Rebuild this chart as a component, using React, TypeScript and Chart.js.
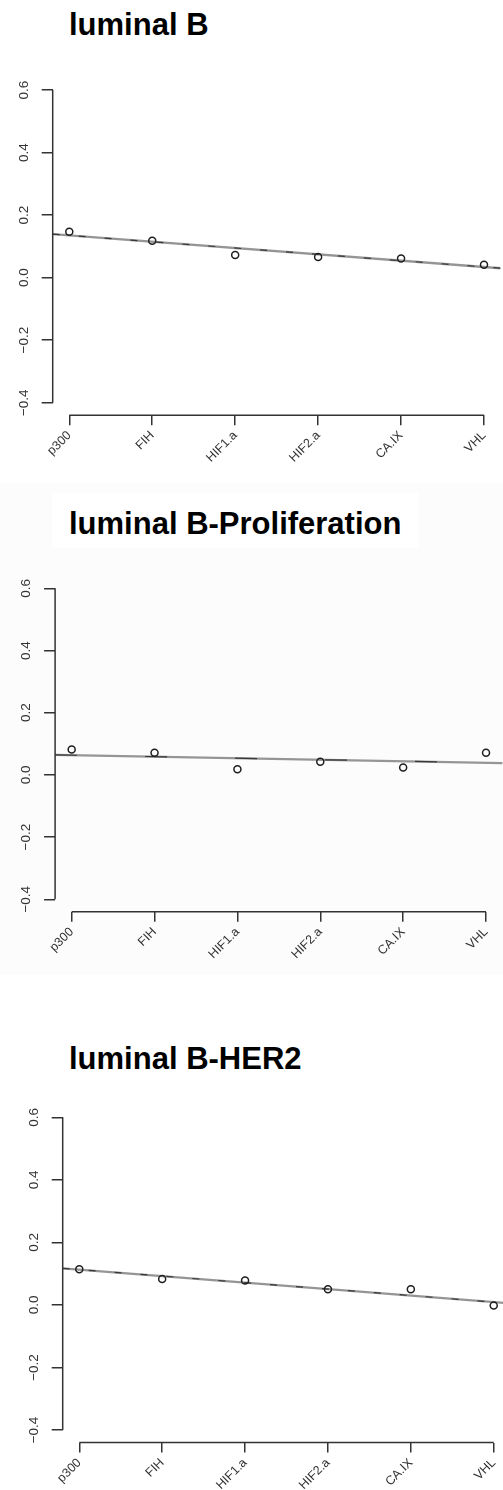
import React, { useEffect, useRef } from 'react';
import { Chart, registerables } from 'chart.js';

Chart.register(...registerables);

// ---- data ----
const categories = ['p300', 'FIH', 'HIF1.a', 'HIF2.a', 'CA.IX', 'VHL'];
const categoryPositions = [1, 2, 3, 4, 5, 6];
const yTickValues = [-0.4, -0.2, 0, 0.2, 0.4, 0.6];
const yTickLabels = ['\u22120.4', '\u22120.2', '0.0', '0.2', '0.4', '0.6'];
const trendX = [0.8, 6.2];

const titles = ['luminal B', 'luminal B-Proliferation', 'luminal B-HER2'];

const luminalB = [0.147, 0.118, 0.072, 0.066, 0.061, 0.041];
const luminalBTrend = [0.139, 0.03];

const luminalBProlif = [0.082, 0.071, 0.018, 0.042, 0.024, 0.071];
const luminalBProlifTrend = [0.0645, 0.038];

const luminalBHer2 = [0.114, 0.083, 0.078, 0.05, 0.05, -0.002];
const luminalBHer2Trend = [0.117, 0.005];

const FONT = '"Liberation Sans", Arial, Helvetica, sans-serif';
const AXIS_COLOR = '#333333';
const TEXT_COLOR = '#333333';
const CANVAS_W = 520;

const axisLines = {
  id: 'axisLines',
  afterDraw(chart: any) {
    const { ctx, chartArea, scales } = chart;
    const x = scales.x;
    const y = scales.y;
    ctx.save();
    ctx.strokeStyle = AXIS_COLOR;
    ctx.lineWidth = 1.5;
    ctx.beginPath();
    ctx.moveTo(chartArea.left, y.getPixelForValue(yTickValues[0]));
    ctx.lineTo(chartArea.left, y.getPixelForValue(yTickValues[yTickValues.length - 1]));
    ctx.moveTo(x.getPixelForValue(categoryPositions[0]), chartArea.bottom);
    ctx.lineTo(x.getPixelForValue(categoryPositions[categoryPositions.length - 1]), chartArea.bottom);
    ctx.stroke();
    ctx.restore();
  },
};

type Area = { left: number; right: number; top: number; bottom: number };

function Panel(props: {
  values: number[];
  trend: number[];
  canvasTop: number;
  canvasHeight: number;
  area: Area;
  dash: number[];
}) {
  const ref = useRef<HTMLCanvasElement | null>(null);
  const { values, trend, canvasTop, canvasHeight, area, dash } = props;

  useEffect(() => {
    if (!ref.current) return;
    const trendData = trendX.map((x, i) => ({ x, y: trend[i] }));
    const chart = new Chart(ref.current, {
      type: 'scatter',
      data: {
        datasets: [
          {
            data: trendData,
            showLine: true,
            borderColor: '#959595',
            borderWidth: 2.4,
            pointRadius: 0,
            order: 2,
          },
          {
            data: trendData,
            showLine: true,
            borderColor: '#383838',
            borderWidth: 1.2,
            borderDash: dash,
            pointRadius: 0,
            order: 1,
          },
          {
            data: categoryPositions.map((x, i) => ({ x, y: values[i] })),
            showLine: false,
            pointRadius: 3.5,
            pointBorderWidth: 1.5,
            pointBorderColor: '#1e1e1e',
            pointBackgroundColor: 'rgba(0,0,0,0)',
            order: 0,
          },
        ],
      },
      options: {
        animation: false,
        responsive: false,
        maintainAspectRatio: false,
        events: [],
        layout: {
          padding: { left: 0, right: CANVAS_W - area.right, top: area.top, bottom: 0 },
        },
        plugins: {
          legend: { display: false },
          tooltip: { enabled: false },
          title: { display: false },
        },
        scales: {
          x: {
            type: 'linear',
            position: 'bottom',
            min: 0.8,
            max: 6.2,
            afterBuildTicks: (s: any) => {
              s.ticks = categoryPositions.map((v) => ({ value: v }));
            },
            afterFit: (s: any) => {
              s.height = canvasHeight - area.bottom;
              s.paddingLeft = 0;
              s.paddingRight = 0;
            },
            ticks: {
              autoSkip: false,
              minRotation: 45,
              maxRotation: 45,
              padding: 3,
              color: TEXT_COLOR,
              font: { family: FONT, size: 12.5 },
              callback: (_v: any, i: number) => categories[i],
            },
            grid: {
              display: true,
              drawOnChartArea: false,
              drawTicks: true,
              tickLength: 10,
              color: AXIS_COLOR,
              lineWidth: 1.5,
            },
            border: { display: false },
          },
          y: {
            type: 'linear',
            position: 'left',
            min: -0.44,
            max: 0.64,
            afterBuildTicks: (s: any) => {
              s.ticks = yTickValues.map((v) => ({ value: v }));
            },
            afterFit: (s: any) => {
              s.width = area.left;
              s.paddingTop = 0;
              s.paddingBottom = 0;
            },
            ticks: {
              autoSkip: false,
              minRotation: 90,
              maxRotation: 90,
              crossAlign: 'center',
              padding: 4,
              color: TEXT_COLOR,
              font: { family: FONT, size: 13.5 },
              callback: (_v: any, i: number) => yTickLabels[i],
            },
            grid: {
              display: true,
              drawOnChartArea: false,
              drawTicks: true,
              tickLength: 11,
              color: AXIS_COLOR,
              lineWidth: 1.5,
            },
            border: { display: false },
          },
        },
      } as any,
      plugins: [axisLines],
    });
    return () => chart.destroy();
  }, []);

  return (
    <canvas
      ref={ref}
      width={CANVAS_W}
      height={canvasHeight}
      style={{ position: 'absolute', left: 0, top: canvasTop, width: CANVAS_W, height: canvasHeight, display: 'block' }}
    />
  );
}

function Title(props: { text: string; baseline: number }) {
  return (
    <div
      style={{
        position: 'absolute',
        left: 69,
        top: props.baseline - 26.25,
        fontFamily: FONT,
        fontWeight: 700,
        fontSize: 31,
        lineHeight: '31px',
        color: '#000',
        whiteSpace: 'nowrap',
      }}
    >
      {props.text}
    </div>
  );
}

export default function App() {
  return (
    <div
      style={{
        position: 'absolute',
        left: 0,
        top: 0,
        width: 503,
        height: 1490,
        overflow: 'hidden',
        background: '#ffffff',
      }}
    >
      <div style={{ position: 'absolute', left: 0, top: 483, width: 503, height: 492, background: '#fcfcfc' }} />
      <div style={{ position: 'absolute', left: 52, top: 493, width: 366, height: 55, background: '#ffffff' }} />

      <Title text={titles[0]} baseline={35} />
      <Title text={titles[1]} baseline={534} />
      <Title text={titles[2]} baseline={1069.3} />

      <Panel
        values={luminalB}
        trend={luminalBTrend}
        canvasTop={60}
        canvasHeight={420}
        area={{ left: 52.7, right: 500.6, top: 17.5, bottom: 355.2 }}
        dash={[7, 19]}
      />
      <Panel
        values={luminalBProlif}
        trend={luminalBProlifTrend}
        canvasTop={560}
        canvasHeight={420}
        area={{ left: 55.1, right: 502.6, top: 15.9, bottom: 351.7 }}
        dash={[22, 68]}
      />
      <Panel
        values={luminalBHer2}
        trend={luminalBHer2Trend}
        canvasTop={1090}
        canvasHeight={400}
        area={{ left: 62.7, right: 510.3, top: 14.8, bottom: 352.5 }}
        dash={[7, 19]}
      />
    </div>
  );
}
